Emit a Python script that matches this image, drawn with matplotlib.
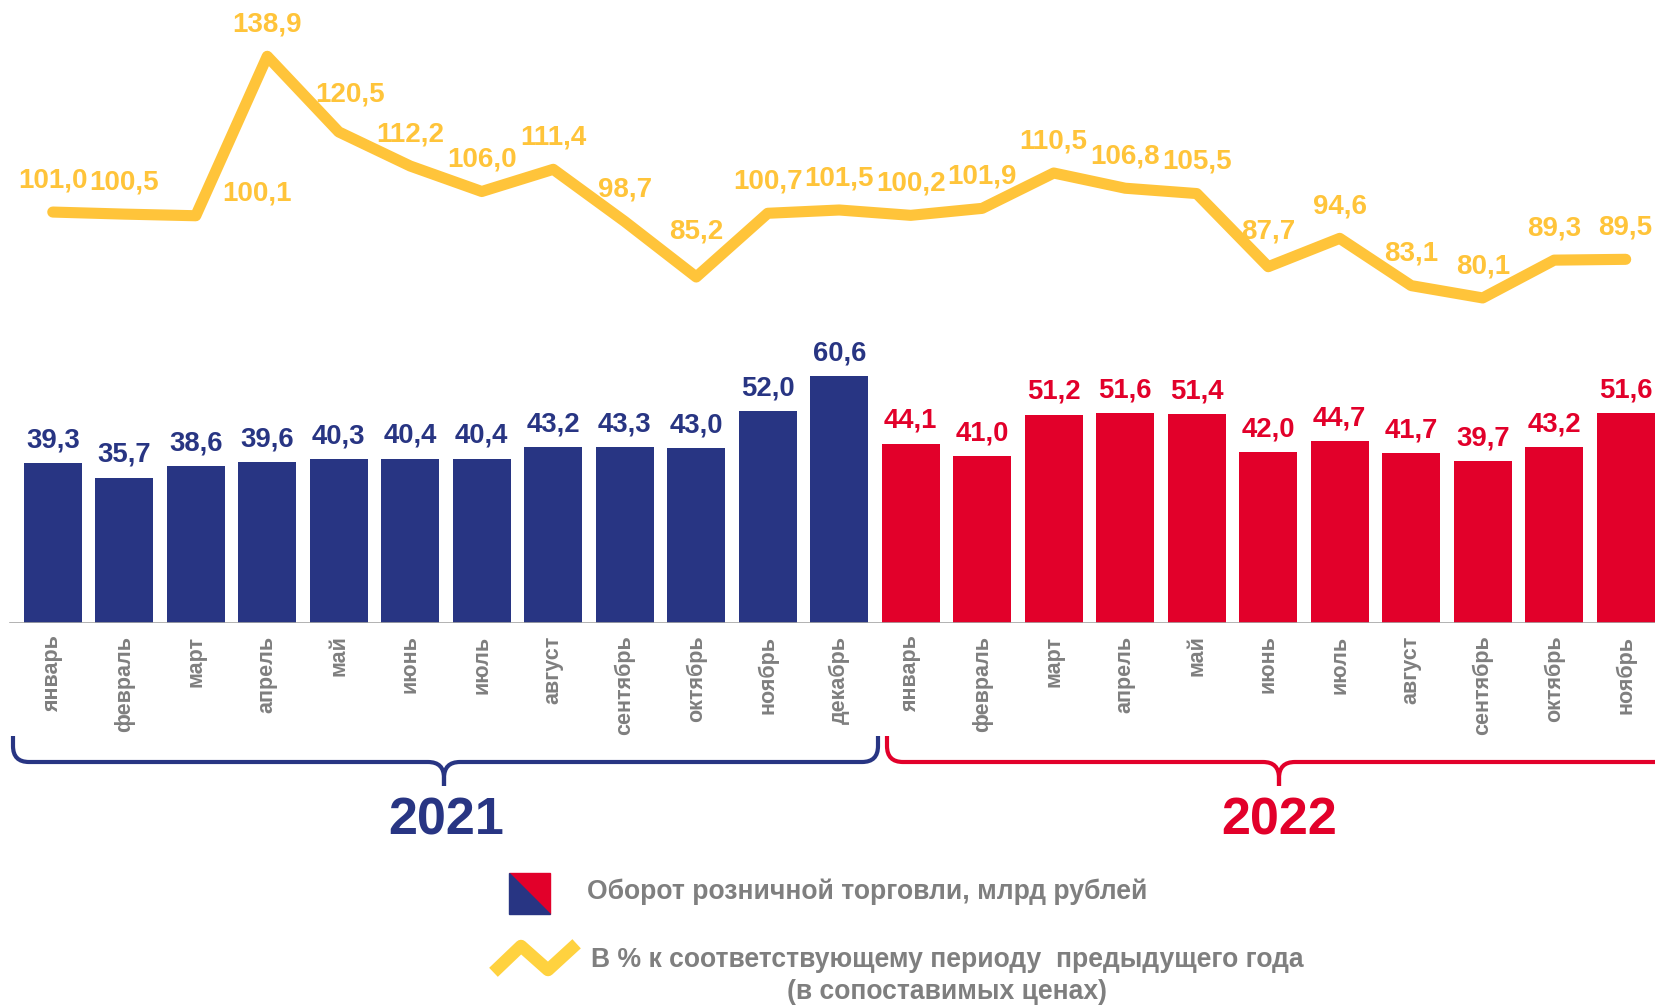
import numpy as np
import matplotlib
matplotlib.use('Agg')
from matplotlib import pyplot as plt
from matplotlib.path import Path
from matplotlib.patches import PathPatch, Polygon
from matplotlib.lines import Line2D

plt.rcParams['font.family'] = ['Liberation Sans', 'DejaVu Sans']
plt.rcParams['font.weight'] = 'bold'

# данные
months = ['январь', 'февраль', 'март', 'апрель', 'май', 'июнь', 'июль',
          'август', 'сентябрь', 'октябрь', 'ноябрь', 'декабрь']
turnover_2021 = [39.3, 35.7, 38.6, 39.6, 40.3, 40.4, 40.4, 43.2, 43.3, 43.0, 52.0, 60.6]
turnover_2022 = [44.1, 41.0, 51.2, 51.6, 51.4, 42.0, 44.7, 41.7, 39.7, 43.2, 51.6]
percent = [101.0, 100.5, 100.1, 138.9, 120.5, 112.2, 106.0, 111.4, 98.7, 85.2, 100.7, 101.5,
           100.2, 101.9, 110.5, 106.8, 105.5, 87.7, 94.6, 83.1, 80.1, 89.3, 89.5]
tick_labels = months + months[:len(turnover_2022)]

NAVY = '#283583'
RED = '#E2002A'
YELLOW = '#FFC43A'
GRAY = '#7F7F7F'

W, H = 1655, 1005
fig = plt.figure(figsize=(W / 100, H / 100), dpi=100)


def fx(x):
    return x / W


def fy(y):
    return 1 - y / H


def fmt(v):
    return f'{v:.1f}'.replace('.', ',')


x = np.arange(len(tick_labels))
xlim = (-0.738, 22.41)

# столбцы
ax = fig.add_axes([0, fy(623), 1, 300 / H])
b1 = ax.bar(x[:12], turnover_2021, width=0.81, color=NAVY)
b2 = ax.bar(x[12:], turnover_2022, width=0.81, color=RED)
ax.bar_label(b1, labels=[fmt(v) for v in turnover_2021], padding=7,
             color=NAVY, fontsize=19.8, fontweight='bold')
ax.bar_label(b2, labels=[fmt(v) for v in turnover_2022], padding=7,
             color=RED, fontsize=19.8, fontweight='bold')
ax.set_xlim(*xlim)
ax.set_ylim(0, 300 / 4.07)
ax.set_xticks(x, tick_labels, rotation=90, fontsize=15.5, color=GRAY, fontweight='bold')
ax.tick_params(axis='x', length=0, pad=9)
ax.set_yticks([])
for s in ax.spines.values():
    s.set_visible(False)
ax.axhline(0, xmin=0.006, color='#A6A6A6', lw=1.2)
ax.patch.set_alpha(0)

# линия, %
ax2 = fig.add_axes([0, fy(330), 1, 330 / H])
ax2.plot(x, percent, color=YELLOW, lw=8, solid_capstyle='round', solid_joinstyle='round')
ax2.set_xlim(*xlim)
ax2.set_ylim(72.3, 152.6)
ax2.axis('off')
offsets = {2: (44, 16), 4: (8, 27), 9: (0, 33), 17: (0, 25)}
for i, v in enumerate(percent):
    dx, dy = offsets.get(i, (0, 23))
    ax2.annotate(fmt(v), (x[i], v), xytext=(dx, dy), textcoords='offset points',
                 ha='center', va='center', color=YELLOW, fontsize=20, fontweight='bold')


# фигурные скобки
def brace(x0, x1, xc, top, mid, tip, r, color):
    pts = []
    codes = []
    for xe, sgn in ((x0, 1), (x1, -1)):
        seg = [(xe, top), (xe, mid - r), (xe, mid), (xe + sgn * r, mid),
               (xc - sgn * r, mid), (xc, mid), (xc, mid + r), (xc, tip)]
        pts += seg
        codes += [Path.MOVETO, Path.LINETO, Path.CURVE3, Path.CURVE3,
                  Path.LINETO, Path.CURVE3, Path.CURVE3, Path.LINETO]
    pts = [(fx(a), fy(b)) for a, b in pts]
    fig.patches.append(PathPatch(Path(pts, codes), fill=False, edgecolor=color, lw=3,
                                 transform=fig.transFigure, capstyle='butt'))


brace(13, 878, 444, 736, 762, 786, 16, NAVY)
brace(887, 1720, 1279, 736, 762, 786, 16, RED)
fig.text(fx(446), fy(821), '2021', ha='center', va='center', fontsize=37.5,
         color=NAVY, fontweight='bold')
fig.text(fx(1279), fy(821), '2022', ha='center', va='center', fontsize=37.5,
         color=RED, fontweight='bold')

# легенда
sq = [(509, 873), (550, 873), (550, 914), (509, 914)]
fig.patches.append(Polygon([(fx(a), fy(b)) for a, b in (sq[0], sq[1], sq[2])],
                           closed=True, color=RED, transform=fig.transFigure))
fig.patches.append(Polygon([(fx(a), fy(b)) for a, b in (sq[0], sq[3], sq[2])],
                           closed=True, color=NAVY, transform=fig.transFigure))
fig.text(fx(587), fy(892), 'Оборот розничной торговли, млрд рублей', ha='left', va='center',
         fontsize=19.1, color=GRAY, fontweight='bold')

zig = [(498, 968), (521, 946), (548, 970), (572, 948)]
fig.lines.append(Line2D([fx(a) for a, b in zig], [fy(b) for a, b in zig], color='#FFD23F',
                        lw=9, transform=fig.transFigure))
fig.text(fx(947), fy(976), 'В % к соответствующему периоду  предыдущего года\n(в сопоставимых ценах)',
         ha='center', va='center', fontsize=19.1, color=GRAY, fontweight='bold',
         multialignment='center', linespacing=1.29)

fig.savefig('out.png', dpi=100)
